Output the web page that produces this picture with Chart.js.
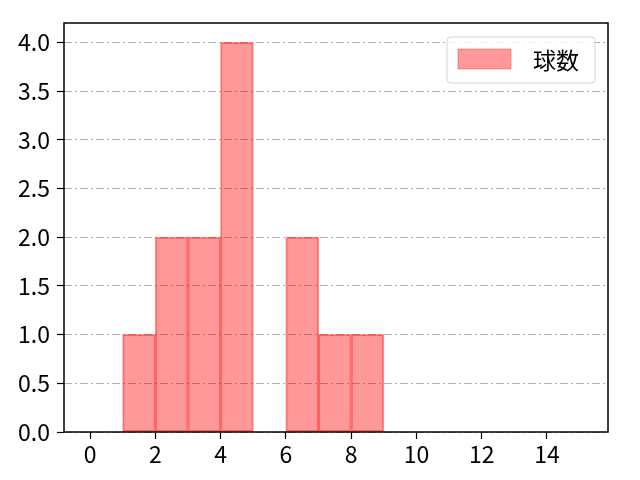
<!DOCTYPE html>
<html>
  <head>
    <script src="https://cdn.jsdelivr.net/npm/chart.js@4.4.0/dist/chart.umd.min.js"></script>
    <style>
      html, body { margin: 0; padding: 0; background: #fff; }
      #wrap { width: 640px; height: 480px; }
    </style>
  </head>
  <body>
    <div id="wrap"><canvas id="hist"></canvas></div>
    <script>
      // INPUT DATA

      const seriesLabel = "球数";
      const binStarts = [1, 2, 3, 4, 5, 6, 7, 8];
      const binCounts = [1, 2, 2, 4, 0, 2, 1, 1];
      const xTicks = [0, 2, 4, 6, 8, 10, 12, 14];
      const yTicks = [0, 0.5, 1, 1.5, 2, 2.5, 3, 3.5, 4];

      const FONT = "'Noto Sans CJK JP', 'Noto Sans', sans-serif";

      // PLOTTING DATA

      const barData = binStarts.map(function (s, i) {
        return { x: s + 0.5, y: binCounts[i] === 0 ? null : binCounts[i] };
      });

      // frame around the plot and a boxed legend inside it
      const framePlugin = {
        id: "frame",
        afterDraw(chart) {
          const ctx = chart.ctx;
          const a = chart.chartArea;
          ctx.save();
          ctx.strokeStyle = "#000";
          ctx.lineWidth = 1.5;
          ctx.strokeRect(a.left, a.top, a.right - a.left, a.bottom - a.top);

          // legend
          const bx = a.right - 161, by = a.top + 14, bw = 148, bh = 46;
          ctx.fillStyle = "rgba(255,255,255,0.8)";
          ctx.strokeStyle = "#d5d5d5";
          ctx.lineWidth = 1;
          ctx.beginPath();
          ctx.roundRect(bx, by, bw, bh, 4);
          ctx.fill();
          ctx.stroke();
          ctx.fillStyle = "rgba(255,0,0,0.4)";
          ctx.fillRect(bx + 11, by + 12, 53, 20);
          ctx.strokeStyle = "rgba(255,0,0,0.3)";
          ctx.strokeRect(bx + 11, by + 12, 53, 20);
          ctx.fillStyle = "#000";
          ctx.font = "23px " + FONT;
          ctx.textBaseline = "middle";
          ctx.fillText(seriesLabel, bx + 86, by + 23);
          ctx.restore();
        },
      };

      new Chart(document.getElementById("hist").getContext("2d"), {
        type: "bar",
        data: {
          datasets: [
            {
              label: seriesLabel,
              data: barData,
              backgroundColor: "rgba(255,0,0,0.4)",
              borderColor: "rgba(255,0,0,0.4)",
              borderWidth: 1,
              inflateAmount: 0.5,
              barPercentage: 1,
              categoryPercentage: 1,
              borderSkipped: false,
            },
          ],
        },
        options: {
          responsive: true,
          maintainAspectRatio: false,
          animation: false,
          layout: { padding: { top: 23, right: 32, left: 0, bottom: 0 } },
          plugins: {
            legend: { display: false },
            tooltip: { enabled: false },
          },
          scales: {
            x: {
              type: "linear",
              offset: false,
              min: -0.8,
              max: 15.87,
              afterBuildTicks(scale) {
                scale.ticks = xTicks.map(function (v) { return { value: v }; });
              },
              afterFit(scale) { scale.height = 48; },
              ticks: {
                color: "#000",
                font: { family: FONT, size: 23 },
                padding: 1,
                maxRotation: 0,
              },
              grid: {
                offset: false,
                drawOnChartArea: false,
                drawTicks: true,
                tickLength: 7,
                tickColor: "#000",
                tickWidth: 1.2,
              },
              border: { display: false },
            },
            y: {
              min: 0,
              max: 4.2,
              afterBuildTicks(scale) {
                scale.ticks = yTicks.map(function (v) { return { value: v }; });
              },
              afterFit(scale) { scale.width = 64; },
              ticks: {
                color: "#000",
                font: { family: FONT, size: 23 },
                padding: 7,
                callback: function (v) { return Number(v).toFixed(1); },
              },
              grid: {
                color: "#b0b0b0",
                lineWidth: 1,
                drawTicks: true,
                tickLength: 7,
                tickColor: "#000",
                tickWidth: 1.2,
                tickBorderDash: [],
              },
              border: { display: false, dash: [8, 3, 2, 3] },
            },
          },
        },
        plugins: [framePlugin],
      });
    </script>
  </body>
</html>
